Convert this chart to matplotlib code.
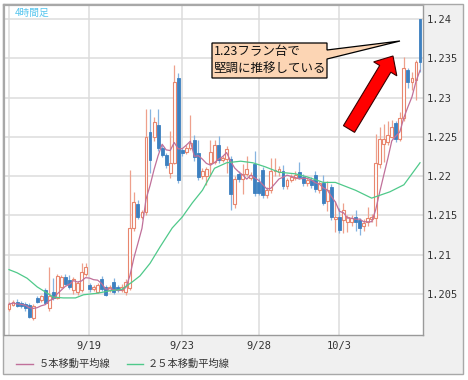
import numpy as np
import matplotlib
matplotlib.use("Agg")
import matplotlib.pyplot as plt
from matplotlib.patches import Rectangle, Polygon, FancyArrow
from matplotlib.lines import Line2D
from matplotlib.transforms import Affine2D

# 4-hour candles, EUR/CHF (open, high, low, close)
opens = [1.2031, 1.2036, 1.2040, 1.2038, 1.2037, 1.2036, 1.2019, 1.2045, 1.2042, 1.2055,
         1.2032, 1.2052, 1.2045, 1.2059, 1.2071, 1.2068, 1.2055, 1.2053, 1.2055, 1.2075,
         1.2061, 1.2056, 1.2053, 1.2069, 1.2059, 1.2055, 1.2065, 1.2059, 1.2055, 1.2053,
         1.2058, 1.2134, 1.2164, 1.2148, 1.2154, 1.2256, 1.2250, 1.2265, 1.2236, 1.2227,
         1.2204, 1.2217, 1.2325, 1.2233, 1.2231, 1.2236, 1.2246, 1.2229, 1.2200, 1.2200,
         1.2217, 1.2218, 1.2240, 1.2221, 1.2222, 1.2222, 1.2164, 1.2203, 1.2196, 1.2203,
         1.2198, 1.2216, 1.2193, 1.2208, 1.2176, 1.2182, 1.2206, 1.2205, 1.2206, 1.2187,
         1.2195, 1.2198, 1.2205, 1.2199, 1.2191, 1.2195, 1.2202, 1.2182, 1.2191, 1.2168,
         1.2186, 1.2145, 1.2148, 1.2144, 1.2141, 1.2141, 1.2148, 1.2144, 1.2136, 1.2141,
         1.2145, 1.2147, 1.2215, 1.2241, 1.2244, 1.2250, 1.2268, 1.2247, 1.2274, 1.2335,
         1.2320, 1.2322, 1.2400]
highs = [1.2040, 1.2042, 1.2043, 1.2041, 1.2040, 1.2038, 1.2037, 1.2047, 1.2049, 1.2057,
         1.2084, 1.2070, 1.2076, 1.2074, 1.2075, 1.2074, 1.2072, 1.2066, 1.2089, 1.2089,
         1.2064, 1.2061, 1.2064, 1.2073, 1.2061, 1.2062, 1.2070, 1.2062, 1.2063, 1.2069,
         1.2208, 1.2180, 1.2170, 1.2157, 1.2286, 1.2286, 1.2275, 1.2286, 1.2240, 1.2230,
         1.2257, 1.2341, 1.2331, 1.2236, 1.2239, 1.2278, 1.2252, 1.2246, 1.2210, 1.2212,
         1.2246, 1.2246, 1.2251, 1.2226, 1.2238, 1.2226, 1.2200, 1.2207, 1.2216, 1.2225,
         1.2205, 1.2232, 1.2198, 1.2212, 1.2186, 1.2223, 1.2223, 1.2213, 1.2214, 1.2198,
         1.2203, 1.2206, 1.2218, 1.2203, 1.2198, 1.2199, 1.2206, 1.2194, 1.2201, 1.2194,
         1.2190, 1.2168, 1.2160, 1.2166, 1.2150, 1.2150, 1.2157, 1.2147, 1.2146, 1.2161,
         1.2152, 1.2253, 1.2263, 1.2266, 1.2270, 1.2272, 1.2270, 1.2282, 1.2351, 1.2338,
         1.2333, 1.2348, 1.2400]
lows = [1.2028, 1.2035, 1.2033, 1.2032, 1.2028, 1.2019, 1.2017, 1.2038, 1.2040, 1.2037,
        1.2028, 1.2042, 1.2043, 1.2057, 1.2061, 1.2056, 1.2050, 1.2049, 1.2053, 1.2073,
        1.2053, 1.2054, 1.2051, 1.2054, 1.2047, 1.2053, 1.2050, 1.2053, 1.2053, 1.2049,
        1.2055, 1.2130, 1.2145, 1.2146, 1.2150, 1.2204, 1.2245, 1.2232, 1.2224, 1.2210,
        1.2198, 1.2215, 1.2191, 1.2225, 1.2228, 1.2233, 1.2219, 1.2195, 1.2196, 1.2189,
        1.2200, 1.2215, 1.2217, 1.2218, 1.2204, 1.2157, 1.2160, 1.2193, 1.2177, 1.2200,
        1.2195, 1.2175, 1.2176, 1.2172, 1.2172, 1.2178, 1.2200, 1.2200, 1.2183, 1.2184,
        1.2192, 1.2195, 1.2196, 1.2187, 1.2188, 1.2185, 1.2180, 1.2179, 1.2163, 1.2155,
        1.2144, 1.2129, 1.2128, 1.2128, 1.2129, 1.2136, 1.2130, 1.2125, 1.2130, 1.2136,
        1.2142, 1.2137, 1.2210, 1.2218, 1.2240, 1.2248, 1.2244, 1.2245, 1.2270, 1.2312,
        1.2310, 1.2297, 1.2333]
closes = [1.2037, 1.2040, 1.2035, 1.2035, 1.2032, 1.2021, 1.2035, 1.2040, 1.2047, 1.2039,
          1.2047, 1.2045, 1.2073, 1.2071, 1.2063, 1.2059, 1.2069, 1.2064, 1.2078, 1.2084,
          1.2056, 1.2059, 1.2061, 1.2056, 1.2049, 1.2059, 1.2053, 1.2055, 1.2059, 1.2065,
          1.2134, 1.2167, 1.2148, 1.2154, 1.2250, 1.2221, 1.2269, 1.2236, 1.2227, 1.2214,
          1.2217, 1.2320, 1.2195, 1.2229, 1.2236, 1.2242, 1.2224, 1.2199, 1.2207, 1.2209,
          1.2231, 1.2240, 1.2221, 1.2223, 1.2235, 1.2177, 1.2196, 1.2196, 1.2203, 1.2209,
          1.2202, 1.2179, 1.2179, 1.2176, 1.2182, 1.2207, 1.2208, 1.2209, 1.2187, 1.2195,
          1.2199, 1.2202, 1.2199, 1.2191, 1.2195, 1.2189, 1.2184, 1.2191, 1.2166, 1.2182,
          1.2148, 1.2148, 1.2132, 1.2157, 1.2148, 1.2147, 1.2141, 1.2134, 1.2140, 1.2147,
          1.2148, 1.2217, 1.2247, 1.2247, 1.2252, 1.2262, 1.2247, 1.2274, 1.2338, 1.2320,
          1.2325, 1.2345, 1.2345]

# 25-period moving average (candle index, value)
ma25_idx = [0, 2, 4.5, 7, 9.5, 11, 13.5, 16.5, 18.5, 22, 25, 28, 30.5, 32.5, 35, 37.5,
            40.5, 43, 45.5, 48, 51, 54, 57.5, 60.5, 63.5, 67, 71, 74, 78, 81, 86, 90,
            94.5, 98, 102]
ma25_val = [1.2081, 1.2077, 1.2070, 1.2059, 1.2051, 1.2046, 1.2045, 1.2045, 1.2049, 1.2051,
            1.2054, 1.2056, 1.2065, 1.2073, 1.2089, 1.2110, 1.2134, 1.2148, 1.2166, 1.2182,
            1.2210, 1.2217, 1.2219, 1.2217, 1.2212, 1.2205, 1.2203, 1.2199, 1.2192, 1.2192,
            1.2182, 1.2172, 1.2180, 1.2189, 1.2217]

tick_pos = [0, 19.9, 42.9, 62.0, 81.9]
tick_lab = ["", "9/19", "9/23", "9/28", "10/3"]
y_ticks = [1.205, 1.21, 1.215, 1.22, 1.225, 1.23, 1.235, 1.24]

W, H, DPI = 468, 380, 100
UP = "#e8866e"
UP_WICK = "#eea08c"
DOWN = "#3d80c0"
DOWN_WICK = "#86b4e0"
MA5_C = "#c0709a"
MA25_C = "#4fc98a"

fig = plt.figure(figsize=(W / DPI, H / DPI), dpi=DPI, facecolor="white")
px = Affine2D().scale(1 / DPI, -1 / DPI).translate(0, H / DPI) + fig.dpi_scale_trans

fig.add_artist(Rectangle((3, 4), 460, 370, transform=px, facecolor="#f0f0f0",
                         edgecolor="#a8a8a8", lw=1, zorder=-5))

ax = fig.add_axes([4 / W, 1 - 335 / H, 419 / W, 330 / H])
ax.set_facecolor("white")

o = np.array(opens)
h = np.array(highs)
l = np.array(lows)
c = np.array(closes)
x = np.arange(len(c))
up = c >= o

ax.vlines(x[up], l[up], h[up], color=UP_WICK, lw=0.9, zorder=3)
ax.vlines(x[~up], l[~up], h[~up], color=DOWN_WICK, lw=0.9, zorder=3)
bottom = np.minimum(o, c)
height = np.maximum(np.abs(c - o), 0.00005)
ax.bar(x[up], height[up], 0.72, bottom=bottom[up], facecolor="white",
       edgecolor=UP, lw=0.8, zorder=4)
ax.bar(x[~up], height[~up], 0.72, bottom=bottom[~up], facecolor=DOWN,
       edgecolor=DOWN, lw=0.6, zorder=4)

ma5 = np.convolve(c, np.ones(5) / 5, mode="full")[:len(c)]
ma5[:4] = [c[:k + 1].mean() for k in range(4)]
ax.plot(x, ma5, color=MA5_C, lw=0.9, zorder=5)
ax.plot(ma25_idx, ma25_val, color=MA25_C, lw=0.9, zorder=5)

ax.set_xlim(-1.24, 102.74)
ax.set_ylim(1.19978, 1.24178)
ax.set_xticks(tick_pos)
ax.set_xticklabels(tick_lab)
ax.set_yticks(y_ticks)
ax.set_yticklabels([f"{v:g}" for v in y_ticks])
ax.yaxis.tick_right()
ax.tick_params(length=0, labelsize=7.5, colors="#333333")
ax.tick_params(axis="x", pad=4)
ax.tick_params(axis="y", pad=3)
for lab in ax.get_xticklabels() + ax.get_yticklabels():
    lab.set_family("DejaVu Sans Mono")
ax.grid(True, color="#dcdcdc", lw=1.1, zorder=0)
ax.set_axisbelow(True)
for side, col, lw in [("left", "#a8a8a8", 1.6), ("top", "#a8a8a8", 1.6),
                      ("right", "#9a9a9a", 1.0), ("bottom", "#9a9a9a", 1.0)]:
    ax.spines[side].set_color(col)
    ax.spines[side].set_linewidth(lw)

cjk = ["Noto Sans CJK JP", "DejaVu Sans"]
fig.text(15, 13, "4時間足", transform=px, va="center", ha="left", fontsize=7,
         color="#55c5ee", family=cjk)

# callout
fig.add_artist(Polygon([(212, 43), (327, 43), (327, 50), (400, 41), (327, 59),
                        (327, 78), (212, 78)], closed=True, transform=px,
                       facecolor="#fcd5b4", edgecolor="black", lw=0.9, zorder=10))
fig.text(214, 51, "1.23フラン台で", transform=px, va="center", ha="left",
         fontsize=9, color="#111111", family=cjk, zorder=11)
fig.text(213, 69, "堅調に推移している", transform=px, va="center", ha="left",
         fontsize=9, color="#111111", family=cjk, zorder=11)

fig.add_artist(FancyArrow(349, 129, 44, -73, width=13, head_width=27, head_length=15,
                          length_includes_head=True, transform=px, facecolor="#ff0000",
                          edgecolor="#3a0000", lw=0.8, zorder=10))

# legend
fig.add_artist(Line2D([16, 33], [364, 364], transform=px, color=MA5_C, lw=1))
fig.text(39, 364, "５本移動平均線", transform=px, va="center", ha="left",
         fontsize=7.4, color="#333333", family=cjk)
fig.add_artist(Line2D([127, 143], [364, 364], transform=px, color=MA25_C, lw=1))
fig.text(148, 364, "２５本移動平均線", transform=px, va="center", ha="left",
         fontsize=7.4, color="#333333", family=cjk)

fig.savefig("out.png", dpi=DPI, facecolor="white")
